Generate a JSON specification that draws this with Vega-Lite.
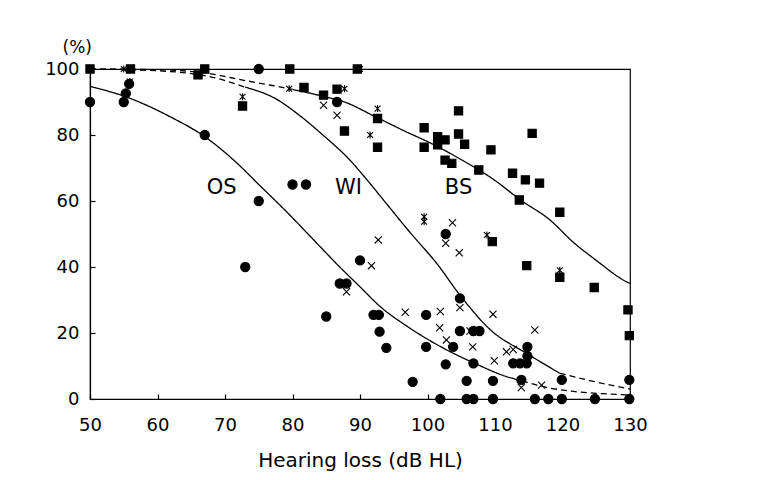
{
  "$schema": "https://vega.github.io/schema/vega-lite/v6.json",
  "width": 540,
  "height": 330,
  "autosize": {"type": "none"},
  "padding": {"left": 90, "top": 69, "right": 141, "bottom": 81},
  "background": "white",
  "config": {
    "font": "DejaVu Sans",
    "view": {"stroke": "black", "strokeWidth": 1.2},
    "axis": {
      "grid": false,
      "domainColor": "black",
      "domainWidth": 1.2,
      "tickColor": "black",
      "tickWidth": 1.2,
      "labelColor": "black",
      "titleColor": "black",
      "labelFont": "DejaVu Sans",
      "titleFont": "DejaVu Sans",
      "labelFontSize": 18,
      "labelFlush": false,
      "titleFontWeight": "normal"
    }
  },
  "datasets": {
    "curves": [
      {"id": "OS1", "dash": "solid", "x": 50, "y": 94.7},
      {"id": "OS1", "dash": "solid", "x": 55, "y": 91.8},
      {"id": "OS1", "dash": "solid", "x": 62, "y": 85.4},
      {"id": "OS1", "dash": "solid", "x": 67, "y": 79.5},
      {"id": "OS1", "dash": "solid", "x": 71.5, "y": 72},
      {"id": "OS1", "dash": "solid", "x": 75.2, "y": 64.6},
      {"id": "OS1", "dash": "solid", "x": 79, "y": 57},
      {"id": "OS1", "dash": "solid", "x": 83, "y": 48.5},
      {"id": "OS1", "dash": "solid", "x": 87, "y": 40},
      {"id": "OS1", "dash": "solid", "x": 90, "y": 34},
      {"id": "OS1", "dash": "solid", "x": 93, "y": 28},
      {"id": "OS1", "dash": "solid", "x": 97, "y": 22},
      {"id": "OS1", "dash": "solid", "x": 102, "y": 15.8},
      {"id": "OS1", "dash": "solid", "x": 107, "y": 10.8},
      {"id": "OS1", "dash": "solid", "x": 111.7, "y": 6.8},
      {"id": "OS1", "dash": "solid", "x": 114, "y": 5.5},
      {"id": "OS2", "dash": "dashed", "x": 114, "y": 5.5},
      {"id": "OS2", "dash": "dashed", "x": 117, "y": 3.8},
      {"id": "OS2", "dash": "dashed", "x": 121.6, "y": 2.3},
      {"id": "OS2", "dash": "dashed", "x": 126, "y": 1.6},
      {"id": "OS2", "dash": "dashed", "x": 130, "y": 1.2},
      {"id": "WI1", "dash": "dashed", "x": 50, "y": 100},
      {"id": "WI1", "dash": "dashed", "x": 58.5, "y": 99.6},
      {"id": "WI1", "dash": "dashed", "x": 67, "y": 98},
      {"id": "WI1", "dash": "dashed", "x": 73, "y": 94.5},
      {"id": "WI2", "dash": "solid", "x": 73, "y": 94.5},
      {"id": "WI2", "dash": "solid", "x": 77.5, "y": 91},
      {"id": "WI2", "dash": "solid", "x": 81, "y": 86},
      {"id": "WI2", "dash": "solid", "x": 84.5, "y": 80},
      {"id": "WI2", "dash": "solid", "x": 88.5, "y": 72.4},
      {"id": "WI2", "dash": "solid", "x": 91, "y": 66.5},
      {"id": "WI2", "dash": "solid", "x": 93.4, "y": 60.5},
      {"id": "WI2", "dash": "solid", "x": 97.4, "y": 50.5},
      {"id": "WI2", "dash": "solid", "x": 101.4, "y": 41},
      {"id": "WI2", "dash": "solid", "x": 104.8, "y": 31.5},
      {"id": "WI2", "dash": "solid", "x": 109.3, "y": 21},
      {"id": "WI2", "dash": "solid", "x": 114.7, "y": 13.8},
      {"id": "WI2", "dash": "solid", "x": 119.6, "y": 7.8},
      {"id": "WI3", "dash": "dashed", "x": 119.6, "y": 7.8},
      {"id": "WI3", "dash": "dashed", "x": 124, "y": 5.6},
      {"id": "WI3", "dash": "dashed", "x": 130, "y": 3},
      {"id": "BS1", "dash": "dashed", "x": 50, "y": 100},
      {"id": "BS1", "dash": "dashed", "x": 60, "y": 99.8},
      {"id": "BS1", "dash": "dashed", "x": 67, "y": 98.8},
      {"id": "BS1", "dash": "dashed", "x": 73, "y": 96.5},
      {"id": "BS1", "dash": "dashed", "x": 77, "y": 95},
      {"id": "BS1", "dash": "dashed", "x": 80, "y": 93.8},
      {"id": "BS2", "dash": "solid", "x": 80, "y": 93.8},
      {"id": "BS2", "dash": "solid", "x": 84.8, "y": 91.6},
      {"id": "BS2", "dash": "solid", "x": 87.7, "y": 90},
      {"id": "BS2", "dash": "solid", "x": 92.3, "y": 85.5},
      {"id": "BS2", "dash": "solid", "x": 96.5, "y": 81.3},
      {"id": "BS2", "dash": "solid", "x": 100.8, "y": 77.2},
      {"id": "BS2", "dash": "solid", "x": 105.2, "y": 72.3},
      {"id": "BS2", "dash": "solid", "x": 109.6, "y": 66.8},
      {"id": "BS2", "dash": "solid", "x": 114, "y": 60},
      {"id": "BS2", "dash": "solid", "x": 118, "y": 54.5},
      {"id": "BS2", "dash": "solid", "x": 121.6, "y": 47.5},
      {"id": "BS2", "dash": "solid", "x": 125, "y": 42},
      {"id": "BS2", "dash": "solid", "x": 129.5, "y": 35.5},
      {"id": "BS2", "dash": "solid", "x": 130, "y": 35}
    ],
    "points": [
      {"g": "OS", "x": 50, "y": 90}, {"g": "OS", "x": 55, "y": 90}, {"g": "OS", "x": 55.3, "y": 92.6},
      {"g": "OS", "x": 55.8, "y": 95.5}, {"g": "OS", "x": 67, "y": 80}, {"g": "OS", "x": 75, "y": 60},
      {"g": "OS", "x": 73, "y": 40}, {"g": "OS", "x": 80, "y": 65}, {"g": "OS", "x": 82, "y": 65},
      {"g": "OS", "x": 75, "y": 100}, {"g": "OS", "x": 86.6, "y": 90}, {"g": "OS", "x": 87, "y": 35},
      {"g": "OS", "x": 88, "y": 35}, {"g": "OS", "x": 85, "y": 25}, {"g": "OS", "x": 90, "y": 42},
      {"g": "OS", "x": 92, "y": 25.5}, {"g": "OS", "x": 92.8, "y": 25.5}, {"g": "OS", "x": 92.9, "y": 20.4},
      {"g": "OS", "x": 93.9, "y": 15.5}, {"g": "OS", "x": 97.8, "y": 5.2}, {"g": "OS", "x": 99.8, "y": 25.5},
      {"g": "OS", "x": 99.8, "y": 15.8}, {"g": "OS", "x": 101.9, "y": 0}, {"g": "OS", "x": 102.7, "y": 50},
      {"g": "OS", "x": 102.7, "y": 10.5}, {"g": "OS", "x": 103.8, "y": 15.8}, {"g": "OS", "x": 104.8, "y": 30.5},
      {"g": "OS", "x": 104.8, "y": 20.6}, {"g": "OS", "x": 106.8, "y": 20.6}, {"g": "OS", "x": 107.7, "y": 20.6},
      {"g": "OS", "x": 106.8, "y": 10.8}, {"g": "OS", "x": 105.8, "y": 5.5}, {"g": "OS", "x": 105.8, "y": 0},
      {"g": "OS", "x": 106.8, "y": 0}, {"g": "OS", "x": 109.7, "y": 5.5}, {"g": "OS", "x": 109.7, "y": 0},
      {"g": "OS", "x": 112.7, "y": 10.8}, {"g": "OS", "x": 113.7, "y": 10.8}, {"g": "OS", "x": 114.7, "y": 10.8},
      {"g": "OS", "x": 114.8, "y": 15.8}, {"g": "OS", "x": 114.8, "y": 13}, {"g": "OS", "x": 113.9, "y": 5.8},
      {"g": "OS", "x": 115.9, "y": 0}, {"g": "OS", "x": 117.9, "y": 0}, {"g": "OS", "x": 119.9, "y": 5.8},
      {"g": "OS", "x": 119.9, "y": 0}, {"g": "OS", "x": 124.8, "y": 0}, {"g": "OS", "x": 129.9, "y": 5.8},
      {"g": "OS", "x": 129.9, "y": 0},
      {"g": "WI", "x": 84.6, "y": 89}, {"g": "WI", "x": 86.6, "y": 86}, {"g": "WI", "x": 88, "y": 32.5},
      {"g": "WI", "x": 91.7, "y": 40.4}, {"g": "WI", "x": 92.7, "y": 48.2}, {"g": "WI", "x": 96.7, "y": 26.3},
      {"g": "WI", "x": 101.9, "y": 26.5}, {"g": "WI", "x": 101.8, "y": 21.6}, {"g": "WI", "x": 102.8, "y": 17.9},
      {"g": "WI", "x": 102.7, "y": 47.2}, {"g": "WI", "x": 103.7, "y": 53.4}, {"g": "WI", "x": 104.7, "y": 44.3},
      {"g": "WI", "x": 104.8, "y": 27.7}, {"g": "WI", "x": 106.7, "y": 15.8}, {"g": "WI", "x": 106.3, "y": 20.6},
      {"g": "WI", "x": 109.7, "y": 25.7}, {"g": "WI", "x": 109.9, "y": 11.6}, {"g": "WI", "x": 111.7, "y": 14.3},
      {"g": "WI", "x": 112.7, "y": 15}, {"g": "WI", "x": 115.9, "y": 20.9}, {"g": "WI", "x": 113.9, "y": 3.5},
      {"g": "WI", "x": 116.9, "y": 4.2}, {"g": "WI", "x": 114.7, "y": 14},
      {"g": "WI*", "x": 50, "y": 100}, {"g": "WI*", "x": 55, "y": 100}, {"g": "WI*", "x": 55.9, "y": 96.2},
      {"g": "WI*", "x": 67, "y": 100}, {"g": "WI*", "x": 75, "y": 100}, {"g": "WI*", "x": 72.6, "y": 91.6},
      {"g": "WI*", "x": 79.5, "y": 94}, {"g": "WI*", "x": 81.9, "y": 94.5}, {"g": "WI*", "x": 87.7, "y": 94},
      {"g": "WI*", "x": 90, "y": 100}, {"g": "WI*", "x": 91.5, "y": 80}, {"g": "WI*", "x": 92.6, "y": 88},
      {"g": "WI*", "x": 99.5, "y": 55.2}, {"g": "WI*", "x": 99.5, "y": 53.7}, {"g": "WI*", "x": 108.8, "y": 49.7},
      {"g": "WI*", "x": 119.6, "y": 39},
      {"g": "BS", "x": 50, "y": 100}, {"g": "BS", "x": 56, "y": 100}, {"g": "BS", "x": 66, "y": 98.2},
      {"g": "BS", "x": 67, "y": 100}, {"g": "BS", "x": 72.6, "y": 88.8}, {"g": "BS", "x": 79.6, "y": 100},
      {"g": "BS", "x": 81.7, "y": 94.4}, {"g": "BS", "x": 84.6, "y": 92.1}, {"g": "BS", "x": 86.6, "y": 93.9},
      {"g": "BS", "x": 87.7, "y": 81.2}, {"g": "BS", "x": 89.6, "y": 100}, {"g": "BS", "x": 92.6, "y": 85},
      {"g": "BS", "x": 92.6, "y": 76.3}, {"g": "BS", "x": 99.5, "y": 82.2}, {"g": "BS", "x": 99.5, "y": 76.3},
      {"g": "BS", "x": 101.5, "y": 79.5}, {"g": "BS", "x": 102.6, "y": 78.5}, {"g": "BS", "x": 101.5, "y": 77},
      {"g": "BS", "x": 104.6, "y": 87.3}, {"g": "BS", "x": 104.6, "y": 80.3}, {"g": "BS", "x": 105.5, "y": 77.2},
      {"g": "BS", "x": 102.6, "y": 72.4}, {"g": "BS", "x": 103.6, "y": 71.4}, {"g": "BS", "x": 109.4, "y": 75.5},
      {"g": "BS", "x": 107.6, "y": 69.4}, {"g": "BS", "x": 115.5, "y": 80.5}, {"g": "BS", "x": 112.6, "y": 68.4},
      {"g": "BS", "x": 114.5, "y": 66.4}, {"g": "BS", "x": 116.6, "y": 65.4}, {"g": "BS", "x": 113.6, "y": 60.3},
      {"g": "BS", "x": 119.6, "y": 56.6}, {"g": "BS", "x": 109.6, "y": 47.7}, {"g": "BS", "x": 114.7, "y": 40.4},
      {"g": "BS", "x": 119.6, "y": 36.9}, {"g": "BS", "x": 124.7, "y": 33.8}, {"g": "BS", "x": 129.7, "y": 27},
      {"g": "BS", "x": 129.9, "y": 19.2}
    ],
    "labels": [
      {"text": "OS", "x": 69.5, "y": 64},
      {"text": "WI", "x": 88.3, "y": 64},
      {"text": "BS", "x": 104.6, "y": 64}
    ]
  },
  "encoding": {
    "x": {
      "field": "x", "type": "quantitative",
      "scale": {"domain": [50, 130], "nice": false, "zero": false},
      "axis": {
        "values": [50, 60, 70, 80, 90, 100, 110, 120, 130],
        "tickSize": -5, "labelPadding": 22,
        "title": "Hearing loss (dB HL)", "titleFontSize": 20, "titlePadding": 16
      }
    },
    "y": {
      "field": "y", "type": "quantitative",
      "scale": {"domain": [0, 100], "nice": false},
      "axis": {
        "values": [0, 20, 40, 60, 80, 100],
        "tickSize": -5, "labelPadding": 16,
        "title": "(%)", "titleAngle": 0, "titleX": -28, "titleY": -22,
        "titleAlign": "left", "titleBaseline": "middle", "titleFontSize": 17
      }
    }
  },
  "layer": [
    {
      "data": {"name": "curves"},
      "mark": {"type": "line", "color": "black", "strokeWidth": 1.3, "interpolate": "monotone"},
      "encoding": {
        "detail": {"field": "id", "type": "nominal"},
        "strokeDash": {
          "field": "dash", "type": "nominal",
          "scale": {"domain": ["solid", "dashed"], "range": [[1, 0], [6, 4]]},
          "legend": null
        }
      }
    },
    {
      "data": {"name": "points"},
      "mark": {"type": "point", "stroke": "black", "strokeWidth": 1.1, "opacity": 1},
      "encoding": {
        "shape": {
          "field": "g", "type": "nominal",
          "scale": {
            "domain": ["OS", "BS", "WI", "WI*"],
            "range": ["circle", "square", "M-1,-1L1,1M-1,1L1,-1", "M-1,-1L1,1M-1,1L1,-1M0,-1.2L0,1.2"]
          },
          "legend": null
        },
        "size": {
          "field": "g", "type": "nominal",
          "scale": {"domain": ["OS", "BS", "WI", "WI*"], "range": [85, 34, 64, 72]},
          "legend": null
        },
        "fill": {
          "field": "g", "type": "nominal",
          "scale": {"domain": ["OS", "BS", "WI", "WI*"], "range": ["black", "black", "transparent", "transparent"]},
          "legend": null
        }
      }
    },
    {
      "data": {"name": "labels"},
      "mark": {"type": "text", "font": "DejaVu Sans", "fontSize": 21, "color": "black", "align": "center", "baseline": "middle"},
      "encoding": {"text": {"field": "text", "type": "nominal"}}
    }
  ]
}
